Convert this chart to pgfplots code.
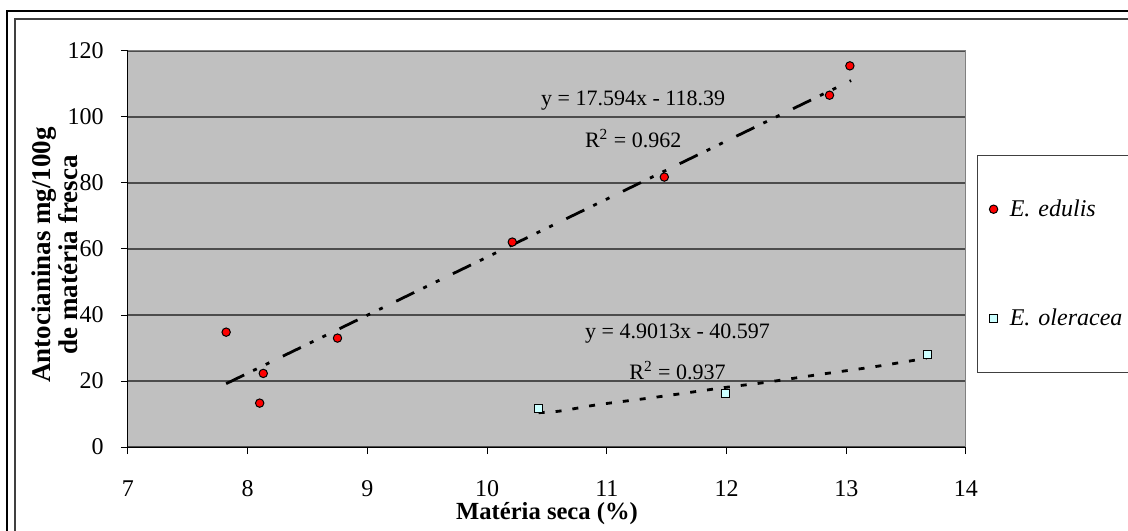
\documentclass[border=0pt]{standalone}
\usepackage{fontspec}
\setmainfont{Liberation Serif}
\usepackage{pgfplots}
\pgfplotsset{compat=1.18}
\usetikzlibrary{calc}
\definecolor{plotbg}{HTML}{C0C0C0}
\definecolor{sqfill}{HTML}{CCFFFF}
\begin{document}
\begin{tikzpicture}
\path[use as bounding box, clip] (-64pt,-41.5pt) rectangle (500pt,223.5pt);
% outer frame
\draw[black, line width=1pt] (-60.5pt,-80pt) -- (-60.5pt,218pt) -- (560pt,218pt);
\draw[black!75, line width=0.75pt] (-56.5pt,-80pt) -- (-56.5pt,214pt) -- (560pt,214pt);
\begin{axis}[
  scale only axis,
  width=419pt, height=198pt,
  at={(0,0)}, anchor=south west,
  xmin=7, xmax=14, ymin=0, ymax=120,
  xtick={7,8,...,14}, ytick={0,20,...,120},
  axis background/.style={fill=plotbg},
  axis x line*=bottom, axis y line*=left,
  axis line style={black, line width=0.5pt},
  tick align=outside, major tick length=3.5pt,
  tick style={black, line width=0.5pt},
  ymajorgrids, grid style={black!70, line width=0.75pt},
  xticklabel={\fontsize{12}{13}\selectfont\pgfmathprintnumber{\tick}},
  yticklabel={\fontsize{12}{13}\selectfont\pgfmathprintnumber{\tick}},
  /pgf/number format/assume math mode=true,
  xticklabel style={anchor=base, yshift=-21pt, inner sep=0pt},
  yticklabel style={anchor=east, xshift=-8.5pt, inner sep=0pt},
  xlabel={Matéria seca (\%)},
  xlabel style={font=\bfseries\fontsize{12.3}{12.3}\selectfont, at={($(axis description cs:0.5,0)+(0,-36pt)$)}, anchor=base},
  ylabel={Antocianinas mg/100g\\de matéria fresca},
  ylabel style={font=\bfseries\fontsize{13.5}{12}\selectfont, align=center, inner sep=0pt, at={($(axis description cs:0,0.485)+(-25pt,0)$)}, anchor=south},
  legend style={at={(1,0.462)}, anchor=west, xshift=5.5pt, draw=black!75, fill=white,
    font=\fontsize{12}{14}\selectfont\itshape, row sep=41pt, inner ysep=20pt, inner xsep=6pt,
    text width=70pt, cells={anchor=west},
    /tikz/every odd column/.append style={column sep=4pt}},
  legend image code/.code={\draw[#1] plot coordinates {(0pt,0pt)};},
  clip=false,
]
% frame top/right in gray
\draw[black!50, line width=0.5pt] (axis cs:7,120) -- (axis cs:14,120) -- (axis cs:14,0);
% trendline E. edulis
\addplot[forget plot, black, line width=1.4pt, dash pattern=on 10pt off 5pt on 2pt off 5pt on 2pt off 7.5pt]
  coordinates {(7.82,19.19) (13.04,111.04)};
% trendline E. oleracea
\addplot[forget plot, black, line width=1.4pt, smooth, dash pattern=on 3pt off 5.5pt]
  coordinates {(10.43,10.4) (10.61,10.9) (10.92,12.8) (11.39,15.0) (12.0,18.1) (12.31,19.5) (12.78,22.0) (13.23,24.3) (13.67,26.9)};
% data
\addplot[only marks, mark=*, mark size=2.1pt, mark options={fill=red, draw=black, line width=0.5pt}]
  coordinates {(7.82,34.8) (8.10,13.3) (8.13,22.3) (8.75,33.0) (10.21,62.1) (11.48,81.8) (12.86,106.6) (13.03,115.5)};
\addlegendentry{E. edulis}
\addplot[only marks, mark=square*, mark size=2pt, mark options={fill=sqfill, draw=black, line width=0.5pt}]
  coordinates {(10.43,11.8) (11.99,16.2) (13.68,27.9)};
\addlegendentry{E. oleracea}
% equations
\node[font=\fontsize{11}{12}\selectfont] at (axis cs:11.22,105) {y = 17.594x - 118.39};
\node[font=\fontsize{11}{12}\selectfont] at (axis cs:11.22,93.5) {R\textsuperscript{2} = 0.962};
\node[font=\fontsize{11}{12}\selectfont] at (axis cs:11.59,34.5) {y = 4.9013x - 40.597};
\node[font=\fontsize{11}{12}\selectfont] at (axis cs:11.59,23.3) {R\textsuperscript{2} = 0.937};
\end{axis}
\end{tikzpicture}
\end{document}
